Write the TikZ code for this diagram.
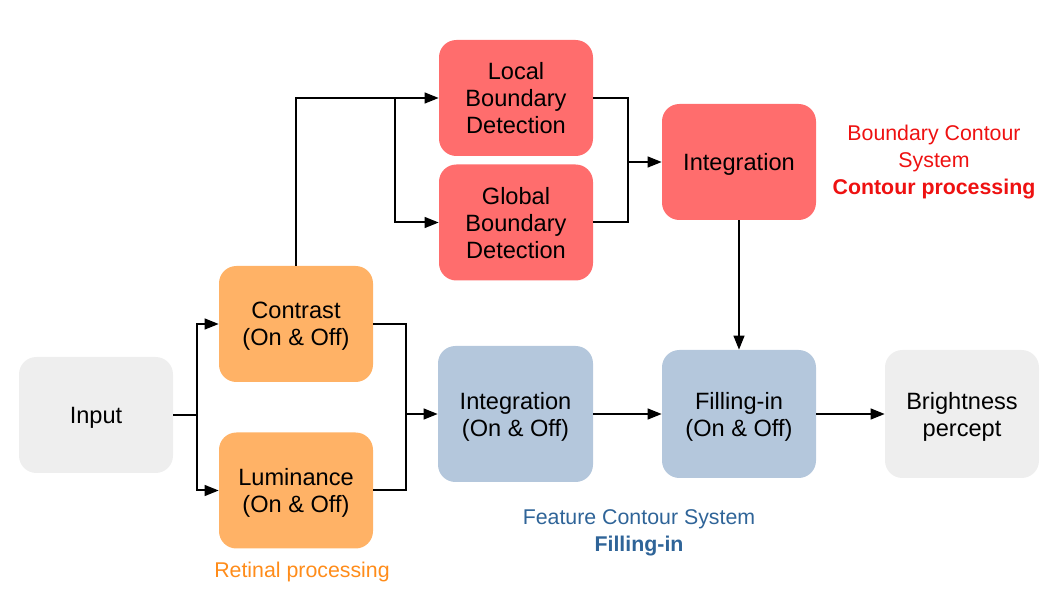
\documentclass[tikz,border=0pt]{standalone}
\usepackage{fontspec}
\setmainfont{Liberation Sans}
\usetikzlibrary{arrows.meta}

\definecolor{retina}{HTML}{FFB266}
\definecolor{boundary}{HTML}{FF6D6D}
\definecolor{feature}{HTML}{B4C7DC}
\definecolor{plain}{HTML}{EEEEEE}
\definecolor{bcstext}{HTML}{EE1111}
\definecolor{fcstext}{HTML}{2F6498}
\definecolor{rettext}{HTML}{FF8C1A}

\tikzset{
  stage/.style={rectangle, rounded corners=13pt, inner sep=0pt, align=center,
    minimum width=115.5pt, minimum height=87pt, text depth=0pt,
    font=\fontsize{17.7}{20.25}\selectfont},
  link/.style={line width=1.5pt},
  arrow/.style={link, -{Triangle[length=10.5pt, width=8pt]}},
  caption/.style={align=center, font=\fontsize{16}{20.25}\selectfont}
}

\begin{document}
\begin{tikzpicture}[x=0.75pt, y=-0.75pt]
  \useasboundingbox (0,0) rectangle (1058,595);

  % boxes
  \node (input) [stage, fill=plain] at (96,415) {Input};
  \node (contrast) [stage, fill=retina] at (296,324) {Contrast\\(On \& Off)};
  \node (luminance) [stage, fill=retina] at (296,490.5) {Luminance\\(On \& Off)};
  \node (local) [stage, fill=boundary] at (516,98) {Local\\Boundary\\Detection};
  \node (global) [stage, fill=boundary] at (516,222.5) {Global\\Boundary\\Detection};
  \node (bint) [stage, fill=boundary] at (739,162) {Integration};
  \node (fint) [stage, fill=feature, minimum width=116.25pt, minimum height=102pt] at (515.5,414) {Integration\\(On \& Off)};
  \node (filling) [stage, fill=feature, minimum height=96pt] at (739,414) {Filling-in\\(On \& Off)};
  \node (percept) [stage, fill=plain, minimum height=96pt] at (962,414) {Brightness\\percept};

  % captions
  \node (bcs) [caption, text=bcstext] at (934,162.5) {Boundary Contour\\System\\\textbf{Contour processing}};
  \node (fcs) [caption, text=fcstext] at (639,533) {Feature Contour System\\\textbf{Filling-in}};
  \node (retinal) [caption, text=rettext] at (302,572) {Retinal processing};

  % junctions
  \coordinate (split) at (197,415);
  \coordinate (fork) at (395,98);
  \coordinate (merge) at (628,162);
  \coordinate (join) at (406,414);

  % connectors
  \draw[link] (input.east) -- (split);
  \draw[arrow] (split) |- (contrast.west);
  \draw[arrow] (split) |- (luminance.west);
  \draw[arrow] (contrast.north) |- (local.west);
  \draw[arrow] (fork) |- (global.west);
  \draw[link] (local.east) -| (merge) |- (global.east);
  \draw[arrow] (merge) -- (bint.west);
  \draw[arrow] (bint.south) -- (filling.north);
  \draw[link] (contrast.east) -| (join) |- (luminance.east);
  \draw[arrow] (join) -- (fint.west);
  \draw[arrow] (fint.east) -- (filling.west);
  \draw[arrow] (filling.east) -- (percept.west);
\end{tikzpicture}
\end{document}
